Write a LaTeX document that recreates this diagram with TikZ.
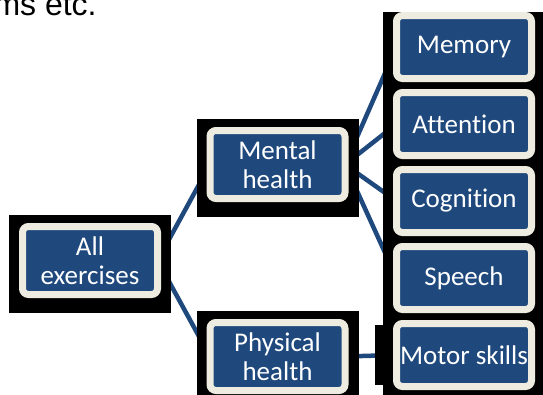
\documentclass[tikz,border=0pt]{standalone}
\usepackage{fontspec}
\setmainfont{Carlito}[Ligatures=NoCommon]
\newfontfamily\headfont{Liberation Sans}
\usepackage{tikz}
\usetikzlibrary{positioning}
\definecolor{boxblue}{RGB}{31,73,125}
\definecolor{boxrim}{RGB}{238,236,225}
\tikzstyle{box}=[rectangle,rounded corners=6pt,fill=boxblue,draw=boxrim,line width=7pt,text=white,align=center,minimum width=135pt,minimum height=68pt,inner xsep=0pt,inner ysep=2pt,outer sep=0pt,font=\fontsize{27}{28.5}\selectfont]
\tikzstyle{leaf}=[box,minimum height=63pt]
\tikzstyle{link}=[draw=boxblue,line width=4.5pt]
\pgfdeclarelayer{edges}
\pgfdeclarelayer{shade}
\pgfsetlayers{edges,shade,main}
\newcommand{\backdrop}[1]{\fill[black] ([shift={(-13.5,-11.5)}]#1.north west) rectangle ([shift={(13.5,18.5)}]#1.south east);}

\begin{document}
\begin{tikzpicture}[
    x=1pt, y=-1pt,
    node distance=14pt
    ]
    \useasboundingbox (0,0) rectangle (543,394);
    \node[anchor=base west,font=\headfont\fontsize{32}{36}\selectfont] (cut) at (-10,15) {ms etc.};

    \node[box](all) at (90,260.5) {All\\exercises};
    \node[box](mental) at (277.5,164.5) {Mental\\health};
    \node[box](physical) [below=124pt of mental] {Physical\\health};

    \node[leaf](memory) at (464,47) {Memory};
    \node[leaf](attention) [below=of memory] {Attention};
    \node[leaf](cognition) [below=of attention] {Cognition};
    \node[leaf](speech) [below=of cognition] {Speech};
    \node[leaf](motor) [below=of speech] {Motor skills};

    \begin{pgfonlayer}{shade}
    \backdrop{all}
    \backdrop{mental}
    \backdrop{physical}
    \fill[black] ([shift={(-13.5,-3.5)}]memory.north west) rectangle ([shift={(13.5,18.5)}]motor.south east);
    \fill[black] ([shift={(-21.5,1.5)}]motor.north west) rectangle ([shift={(0,-1.5)}]motor.south west);
    \end{pgfonlayer}

    \begin{pgfonlayer}{edges}
    \path[link]
    (all.east) edge (mental.west)
    (all.east) edge (physical.west)
    (mental.east) edge (memory.west)
    (mental.east) edge (attention.west)
    (mental.east) edge (cognition.west)
    (mental.east) edge (speech.west)
    (physical.east) edge (motor.west)
    ;
    \end{pgfonlayer}
\end{tikzpicture}
\end{document}
